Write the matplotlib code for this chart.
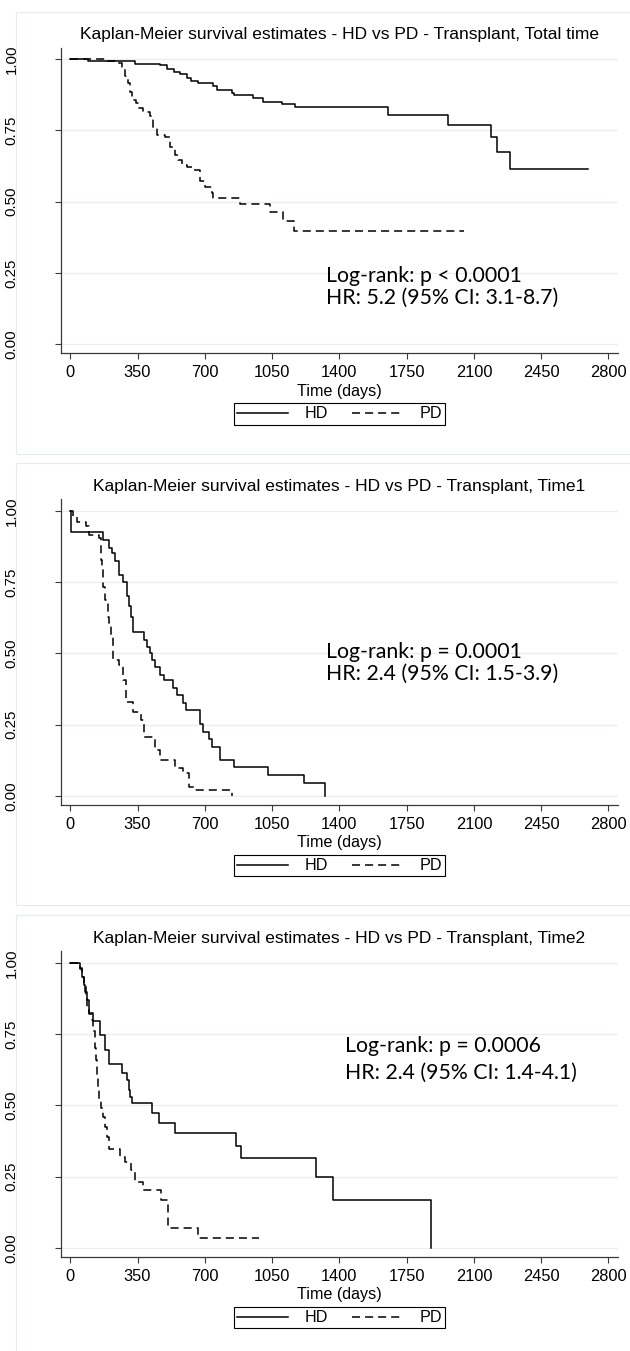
import matplotlib
matplotlib.use("Agg")
import matplotlib.pyplot as plt
from matplotlib.patches import Rectangle

# survival curves (days, survival after each step)
hd_total_t = [0, 95, 338, 468, 503, 541, 572, 610, 629, 666, 742, 763, 841, 853, 952, 1005,
              1104, 1170, 1651, 1965, 2188, 2219, 2288, 2692]
hd_total_s = [1, 0.992, 0.984, 0.978, 0.965, 0.955, 0.947, 0.935, 0.924, 0.916, 0.906, 0.892,
              0.881, 0.875, 0.863, 0.851, 0.842, 0.833, 0.805, 0.768, 0.728, 0.676, 0.615, 0.615]
pd_total_t = [0, 187, 251, 269, 286, 298, 312, 321, 343, 360, 381, 416, 433, 451, 494, 520, 546,
              563, 581, 607, 641, 676, 702, 737, 745, 884, 1040, 1109, 1165, 2049]
pd_total_s = [1, 0.992, 0.986, 0.974, 0.939, 0.916, 0.886, 0.857, 0.846, 0.828, 0.813, 0.799,
              0.758, 0.734, 0.728, 0.693, 0.664, 0.647, 0.629, 0.622, 0.612, 0.571, 0.553, 0.530,
              0.514, 0.493, 0.465, 0.433, 0.398, 0.398]

hd_time1_t = [0, 3, 173, 200, 216, 232, 252, 273, 296, 308, 316, 325, 386, 400, 413, 427, 441,
              465, 490, 535, 555, 586, 601, 676, 691, 722, 738, 780, 853, 1031, 1217, 1323]
hd_time1_s = [1, 0.926, 0.899, 0.868, 0.851, 0.825, 0.775, 0.751, 0.701, 0.666, 0.628, 0.576,
              0.547, 0.522, 0.500, 0.477, 0.453, 0.425, 0.405, 0.378, 0.355, 0.325, 0.301, 0.252,
              0.225, 0.200, 0.173, 0.125, 0.100, 0.075, 0.047, 0.0]
pd_time1_t = [0, 12, 33, 81, 100, 148, 158, 162, 166, 170, 182, 194, 204, 212, 220, 252, 273,
              290, 325, 367, 384, 440, 467, 544, 586, 618, 649, 843]
pd_time1_s = [1, 0.980, 0.962, 0.945, 0.915, 0.903, 0.87, 0.827, 0.80, 0.734, 0.687, 0.629,
              0.606, 0.561, 0.477, 0.459, 0.407, 0.331, 0.296, 0.266, 0.208, 0.160, 0.127, 0.097,
              0.080, 0.033, 0.022, 0.0]

hd_time2_t = [0, 49, 60, 70, 79, 85, 100, 116, 154, 183, 200, 269, 294, 304, 312, 321, 425, 461,
              544, 864, 889, 1280, 1369, 1877]
hd_time2_s = [1, 0.981, 0.951, 0.922, 0.898, 0.869, 0.823, 0.797, 0.747, 0.694, 0.645, 0.612,
              0.589, 0.555, 0.530, 0.507, 0.472, 0.437, 0.402, 0.358, 0.314, 0.250, 0.168, 0.0]
pd_time2_t = [0, 49, 62, 72, 80, 88, 96, 112, 120, 127, 132, 137, 143, 148, 158, 172, 183, 192,
              200, 258, 283, 315, 335, 378, 471, 509, 663, 983]
pd_time2_s = [1, 0.98, 0.95, 0.92, 0.89, 0.84, 0.82, 0.80, 0.76, 0.70, 0.66, 0.60, 0.565, 0.519,
              0.49, 0.46, 0.425, 0.39, 0.346, 0.320, 0.302, 0.273, 0.232, 0.203, 0.168, 0.069,
              0.036, 0.036]

titles = ["Kaplan-Meier survival estimates - HD vs PD - Transplant, Total time",
          "Kaplan-Meier survival estimates - HD vs PD - Transplant, Time1",
          "Kaplan-Meier survival estimates - HD vs PD - Transplant, Time2"]
stats = [("Log-rank: p < 0.0001", "HR: 5.2 (95% CI: 3.1-8.7)"),
         ("Log-rank: p = 0.0001", "HR: 2.4 (95% CI: 1.5-3.9)"),
         ("Log-rank: p = 0.0006", "HR: 2.4 (95% CI: 1.4-4.1)")]
x_ticks = [0, 350, 700, 1050, 1400, 1750, 2100, 2450, 2800]
y_ticks = [0.00, 0.25, 0.50, 0.75, 1.00]

W, H = 630, 1351
plt.rcParams['font.family'] = ['Liberation Sans', 'DejaVu Sans']
plt.rcParams['lines.scale_dashes'] = False
fig = plt.figure(figsize=(W / 100, H / 100), dpi=100)


def fx(px):
    return px / W


def fy(py):
    return 1 - py / H


unit = 285.2          # pixels per 1.0 of survival
x_left, x_right = 61.0, 617.7
zero_px = [344.3, 796.0, 1248.0]
offsets = [0.0, 451.7, 903.4]
stat_pos = [(326, -68, -46), (326, -144, -122), (345, -202, -175)]
axis_col = '#3a3a3a'
grid_col = '#e6eef0'

panels = [(hd_total_t, hd_total_s, pd_total_t, pd_total_s),
          (hd_time1_t, hd_time1_s, pd_time1_t, pd_time1_s),
          (hd_time2_t, hd_time2_s, pd_time2_t, pd_time2_s)]

for k, (ht, hs, pt, ps) in enumerate(panels):
    y0 = zero_px[k]
    o = offsets[k]

    # faint graph-region outline
    fig.add_artist(Rectangle((fx(15.5), fy(o + 453.5)), fx(700), (453.5 - 11.7) / H,
                             transform=fig.transFigure, fill=False, ec='#e3ecee', lw=0.8))

    ax = fig.add_axes([fx(x_left), fy(y0 + 0.0316 * unit), (x_right - x_left) / W,
                       1.0713 * unit / H])
    ax.set_xlim(-48, 2848)
    ax.set_ylim(-0.0316, 1.0397)
    for yv in y_ticks:
        ax.axhline(yv, color=grid_col, lw=0.9, zorder=0)
    l1, = ax.step(ht, hs, where='post', color='black', lw=1.1, label='HD')
    l2, = ax.step(pt, ps, where='post', color='black', lw=1.1, label='PD',
                  linestyle=(0, (5.8, 3.6)))

    for side in ['top', 'right']:
        ax.spines[side].set_visible(False)
    for side in ['left', 'bottom']:
        ax.spines[side].set_color(axis_col)
        ax.spines[side].set_linewidth(0.9)
    ax.set_xticks(x_ticks)
    ax.set_xticklabels([str(v) for v in x_ticks])
    ax.set_yticks(y_ticks)
    ax.set_yticklabels([f"{v:.2f}" for v in y_ticks])
    ax.tick_params(axis='x', length=4, width=0.8, color=axis_col, pad=4.5, labelsize=11.8)
    ax.tick_params(axis='y', length=4.5, width=0.8, color=axis_col, pad=26,
                   labelsize=10.8, labelrotation=90)
    for lab in ax.get_yticklabels():
        lab.set_va('center')

    fig.text(fx((x_left + x_right) / 2), fy(o + 35), titles[k], ha='center', va='center',
             fontsize=12.5)
    fig.text(fx((x_left + x_right) / 2), fy(y0 + 46.8), "Time (days)", ha='center',
             va='center', fontsize=11.6)

    sx, d1, d2 = stat_pos[k]
    fig.text(fx(sx), fy(y0 + d1), stats[k][0], ha='left', va='center', fontsize=15.3,
             family=['Lato', 'DejaVu Sans'])
    fig.text(fx(sx), fy(y0 + d2), stats[k][1], ha='left', va='center', fontsize=15.3,
             family=['Lato', 'DejaVu Sans'])

    leg = ax.legend(handles=[l1, l2], loc='center', ncol=2,
                    bbox_to_anchor=(fx(339.5), fy(y0 + 69.7)), bbox_transform=fig.transFigure,
                    fontsize=11.6, frameon=True, fancybox=False, edgecolor='black',
                    framealpha=1, handlelength=3.2, handletextpad=1.0, columnspacing=1.5,
                    borderpad=0.2, borderaxespad=0)
    leg.get_frame().set_linewidth(0.8)

fig.savefig('out.png', dpi=100, facecolor='white')
